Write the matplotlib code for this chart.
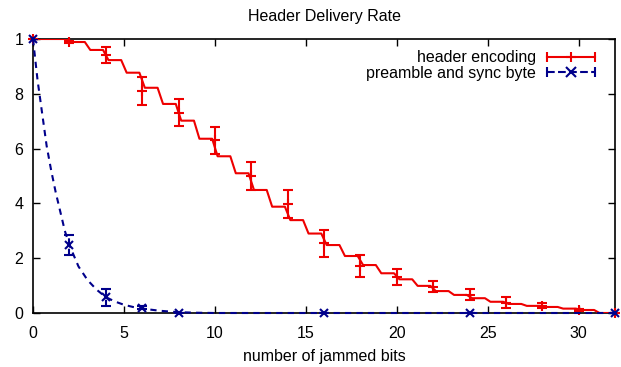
import numpy as np
import matplotlib
matplotlib.use("Agg")
import matplotlib.pyplot as plt
from matplotlib.lines import Line2D
from matplotlib.legend_handler import HandlerBase

plt.rcParams['font.family'] = ['Liberation Sans', 'DejaVu Sans']

# step curve for header encoding, value on each bit interval [k, k+1]
step_vals = [1.0, 1.0, 0.989, 0.96, 0.923, 0.877, 0.822, 0.763, 0.702, 0.636,
             0.572, 0.51, 0.449, 0.388, 0.339, 0.29, 0.248, 0.208, 0.175, 0.145,
             0.123, 0.099, 0.08, 0.066, 0.054, 0.041, 0.033, 0.026, 0.022, 0.016,
             0.011, 0.0]

# measured header encoding points
hdr_x = [0, 2, 4, 6, 8, 10, 12, 14, 16, 18, 20, 22, 24, 26, 28, 30, 32]
hdr_y = [1.0, 0.989, 0.942, 0.81, 0.731, 0.63, 0.50, 0.398, 0.254, 0.172,
         0.132, 0.096, 0.066, 0.038, 0.026, 0.011, 0.0]
hdr_err = [0.0, 0.004, 0.03, 0.05, 0.05, 0.05, 0.05, 0.05, 0.049, 0.04,
           0.03, 0.02, 0.02, 0.02, 0.009, 0.003, 0.0]

# preamble and sync byte: smooth curve + measured points
pre_curve_x = [0, 0.25, 0.5, 0.75, 1, 1.25, 1.5, 1.75, 2, 2.5, 3, 3.5, 4, 4.5,
               5, 5.5, 6, 7, 8, 9, 10, 32]
pre_curve_y = [1.0, 0.85, 0.73, 0.61, 0.52, 0.44, 0.37, 0.30, 0.248, 0.17,
               0.12, 0.085, 0.058, 0.042, 0.03, 0.022, 0.016, 0.008, 0.003,
               0.001, 0.0, 0.0]
pre_x = [0, 2, 4, 6, 8, 16, 24, 32]
pre_y = [1.0, 0.248, 0.057, 0.019, 0.0, 0.0, 0.0, 0.0]
pre_err = [0.0, 0.037, 0.03, 0.005, 0.0, 0.0, 0.0, 0.0]

xticks = [0, 5, 10, 15, 20, 25, 30]
yticks = [0, 0.2, 0.4, 0.6, 0.8, 1.0]
ytick_labels = ['0', '2', '4', '6', '8', '1']

RED = '#ee0000'
BLUE = '#00008b'


class GnuHandler(HandlerBase):
    # gnuplot-like legend sample: line, caps at both ends, point in the middle
    def create_artists(self, legend, orig, xdescent, ydescent, width, height,
                       fontsize, trans):
        y = height / 2 - ydescent
        x0, x1 = -xdescent, -xdescent + width
        c = orig.get_color()
        ls = orig.get_linestyle()
        line = Line2D([x0, x1], [y, y], color=c, ls=ls, lw=1.5)
        caps = Line2D([x0, x1], [y, y], color=c, ls='none', marker='|',
                      ms=7, mew=1.5)
        mid = Line2D([(x0 + x1) / 2], [y], color=c, ls='none',
                     marker=orig.get_marker(), ms=7, mew=1.5)
        for a in (line, caps, mid):
            a.set_transform(trans)
        return [line, caps, mid]


fig = plt.figure(figsize=(6.21, 3.67), dpi=100)
ax = fig.add_axes([33 / 621, 1 - 313 / 367, 582 / 621, 274 / 367])

# build the stepped line from the interval values
sx = [0.0]
sy = [step_vals[0]]
for k in range(1, len(step_vals)):
    sx += [k - 0.15, k + 0.15]
    sy += [step_vals[k - 1], step_vals[k]]
sx.append(32.0)
sy.append(step_vals[-1])

ax.plot(sx, sy, color=RED, lw=1.5, zorder=3)
ax.errorbar(hdr_x, hdr_y, yerr=hdr_err, fmt='none', ecolor=RED,
            elinewidth=1.5, capsize=3.5, capthick=1.5, zorder=3)
ax.plot(hdr_x, hdr_y, ls='none', marker='+', ms=6.5, mew=1.5, color=RED,
        zorder=4, clip_on=False)

ax.plot(pre_curve_x, pre_curve_y, color=BLUE, lw=1.5, ls=(0, (3, 2.5)),
        zorder=5, clip_on=False)
eb = ax.errorbar(pre_x, pre_y, yerr=pre_err, fmt='none', ecolor=BLUE,
                 elinewidth=1.5, capsize=3.5, capthick=1.5, zorder=5)
eb[2][0].set_linestyle((0, (3, 2)))
ax.plot(pre_x, pre_y, ls='none', marker='x', ms=6, mew=1.5, color=BLUE,
        zorder=6, clip_on=False)

ax.set_xlim(0, 32)
ax.set_ylim(0, 1)
ax.set_xticks(xticks)
ax.set_yticks(yticks)
ax.set_yticklabels(ytick_labels)
ax.tick_params(direction='in', length=5, width=1, top=True, right=True,
               labelsize=11.5)
ax.tick_params(axis='x', pad=9)
ax.tick_params(axis='y', pad=7)
for s in ax.spines.values():
    s.set_linewidth(1.2)

ax.set_title('Header Delivery Rate', fontsize=11.5, pad=13)
ax.set_xlabel('number of jammed bits', fontsize=11.5, labelpad=6)

h1 = Line2D([], [], color=RED, ls='-', marker='+')
h2 = Line2D([], [], color=BLUE, ls=(0, (3, 2)), marker='x')
ax.legend([h1, h2], ['header encoding', 'preamble and sync byte'],
          handler_map={Line2D: GnuHandler()}, loc='upper right',
          markerfirst=False, frameon=False, fontsize=11.5, handlelength=3.0,
          handletextpad=0.7, labelspacing=0.05, borderaxespad=0.3,
          bbox_to_anchor=(0.985, 1.0))

fig.savefig('out.png', dpi=100)
